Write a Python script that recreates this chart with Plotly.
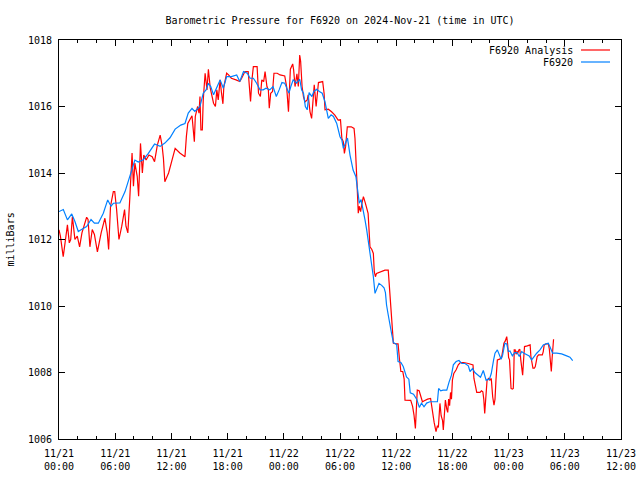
import plotly.graph_objects as go
import pandas as pd

title_text = "Barometric Pressure for F6920 on 2024-Nov-21 (time in UTC)"
y_label = "milliBars"
series_names = ["F6920 Analysis", "F6920"]
base_time = "2024-11-21 00:00"

# Observations (F6920): hours after base_time, pressure in mb
obs_hours = [0.0, 0.46, 0.9, 1.36, 1.7, 2.06, 2.4, 2.95, 3.42, 3.78, 4.2, 4.73, 5.2, 5.55, 5.8,
             6.5, 7.05, 7.58, 8.1, 8.46, 9.0, 9.54, 10.2, 10.8, 11.3, 11.85, 12.4, 13.0, 13.45,
             13.8, 14.2, 14.5, 14.9, 15.05, 15.4, 15.7, 15.95, 16.2, 16.5, 16.85, 17.2, 17.55,
             17.9, 18.4, 18.97, 19.3, 19.7, 20.1, 20.4, 20.75, 21.1, 21.46, 21.8, 22.1, 22.5,
             22.85, 23.2, 23.5, 23.8, 24.1, 24.3, 24.55, 24.75, 25.0, 25.35, 25.7, 25.9, 26.1,
             26.3, 26.5, 26.7, 27.0, 27.2, 27.5, 27.8, 28.1, 28.4, 28.6, 28.75, 29.05, 29.3,
             29.65, 29.8, 30.0, 30.2, 30.36, 30.64, 30.8, 31.07, 31.25, 31.4, 31.7, 31.85, 32.06,
             32.25, 32.5, 32.67, 32.85, 33.0, 33.2, 33.38, 33.56, 33.74, 33.9, 34.16, 34.45,
             34.7, 34.85, 34.97, 35.15, 35.3, 35.5, 35.7, 36.05, 36.2, 36.5, 36.75, 37.1, 37.35,
             37.5, 37.85, 38.2, 38.47, 38.7, 38.97, 39.25, 39.6, 40.14, 40.4, 40.53, 40.75, 41.0,
             41.4, 41.65, 41.9, 42.1, 42.4, 42.7, 43.0, 43.35, 43.7, 43.88, 44.15, 44.4, 44.75,
             45.0, 45.3, 45.6, 45.95, 46.15, 46.4, 46.55, 46.8, 47.0, 47.2, 47.36, 47.6, 47.8,
             47.97, 48.15, 48.4, 48.65, 48.9, 49.14, 49.4, 49.64, 49.9, 50.2, 50.46, 50.7, 51.0,
             51.35, 51.7, 52.0, 52.24, 52.4, 52.7, 53.13, 53.66, 54.2, 54.55, 54.84]
obs_mb = [1012.84, 1012.9, 1012.59, 1012.77, 1012.54, 1012.24, 1012.3, 1012.39, 1012.6, 1012.49,
          1012.49, 1012.79, 1013.19, 1013.0, 1013.09, 1013.1, 1013.44, 1013.89, 1014.39, 1014.33,
          1014.4, 1014.59, 1014.87, 1014.8, 1014.9, 1015.06, 1015.32, 1015.44, 1015.49, 1015.8,
          1015.94, 1015.85, 1015.95, 1016.0, 1016.4, 1016.5, 1016.7, 1016.6, 1016.35, 1016.6,
          1016.8, 1016.55, 1016.9, 1016.9, 1016.95, 1016.75, 1017.05, 1017.0, 1016.85, 1016.85,
          1016.7, 1016.5, 1016.5, 1016.55, 1016.5, 1016.6, 1016.3, 1016.5, 1016.72, 1016.7,
          1016.55, 1016.4, 1016.6, 1016.8, 1016.7, 1016.82, 1016.5, 1016.4, 1016.0, 1015.9,
          1016.42, 1016.3, 1016.45, 1016.52, 1016.45, 1016.4, 1016.14, 1015.84, 1015.64, 1015.75,
          1015.7, 1015.49, 1015.29, 1015.09, 1014.99, 1014.74, 1014.94, 1015.05, 1014.54, 1014.29,
          1014.09, 1013.89, 1013.49, 1013.09, 1013.2, 1012.89, 1012.59, 1012.29, 1011.98, 1011.68,
          1011.28, 1010.88, 1010.38, 1010.5, 1010.68, 1010.62, 1010.55, 1010.4, 1010.03, 1009.73,
          1009.43, 1009.18, 1008.9, 1008.84, 1008.33, 1008.3, 1008.18, 1007.87, 1007.8, 1007.39,
          1007.35, 1007.19, 1006.95, 1007.08, 1006.97, 1007.08, 1007.12, 1007.12, 1007.12,
          1007.52, 1007.45, 1007.47, 1007.47, 1007.72, 1007.92, 1008.23, 1008.33, 1008.36,
          1008.27, 1008.27, 1008.2, 1008.03, 1008.12, 1008.0, 1007.92, 1007.86, 1008.06, 1007.77,
          1007.8, 1007.97, 1008.38, 1008.58, 1008.68, 1008.53, 1008.4, 1008.52, 1008.88, 1008.86,
          1008.63, 1008.65, 1008.5, 1008.6, 1008.6, 1008.48, 1008.63, 1008.58, 1008.55, 1008.5,
          1008.38, 1008.48, 1008.58, 1008.68, 1008.83, 1008.86, 1008.88, 1008.78, 1008.58,
          1008.58, 1008.56, 1008.5, 1008.46, 1008.36]

# Analysis (F6920 Analysis): hours after base_time, pressure in mb
ana_hours = [0.0, 0.15, 0.45, 0.75, 0.9, 1.1, 1.25, 1.43, 1.7, 1.95, 2.2, 2.45, 2.95, 3.1, 3.3,
             3.55, 3.78, 4.1, 4.5, 4.9, 5.15, 5.3, 5.5, 5.8, 5.95, 6.15, 6.4, 6.7, 7.0, 7.15, 7.35,
             7.55, 7.8, 7.95, 8.1, 8.35, 8.5, 8.7, 8.9, 9.05, 9.3, 9.6, 9.95, 10.2, 10.5, 10.8,
             11.0, 11.15, 11.3, 11.7, 12.4, 12.9, 13.45, 13.6, 13.75, 14.2, 14.35, 14.45, 14.55,
             14.8, 14.95, 15.05, 15.15, 15.3, 15.4, 15.6, 15.8, 15.95, 16.15, 16.35, 16.5, 16.7,
             16.85, 17.0, 17.2, 17.35, 17.5, 17.6, 17.9, 18.1, 18.4, 18.9, 19.3, 19.5, 19.85,
             20.2, 20.45, 20.6, 20.75, 21.15, 21.3, 21.5, 21.65, 21.85, 22.0, 22.2, 22.35, 22.45,
             22.6, 22.8, 22.95, 23.3, 23.6, 24.1, 24.3, 24.5, 24.6, 24.7, 24.95, 25.05, 25.2,
             25.4, 25.55, 25.7, 25.8, 25.95, 26.1, 26.26, 26.5, 26.6, 26.8, 26.97, 27.1, 27.25,
             27.45, 27.7, 28.15, 28.3, 28.4, 28.75, 29.1, 29.45, 29.8, 30.05, 30.2, 30.35, 30.47,
             30.6, 30.78, 31.2, 31.5, 31.6, 31.8, 31.88, 31.95, 32.05, 32.2, 32.35, 32.5, 32.7,
             32.85, 33.0, 33.1, 33.2, 33.4, 33.56, 33.66, 33.78, 33.9, 34.3, 34.8, 35.15, 35.3,
             35.5, 35.6, 35.7, 36.05, 36.2, 36.35, 36.5, 36.7, 36.85, 36.94, 37.2, 37.55, 37.75,
             37.9, 38.05, 38.15, 38.25, 38.45, 38.6, 38.8, 39.0, 39.35, 39.67, 39.8, 39.9, 40.05,
             40.25, 40.4, 40.5, 40.67, 40.8, 40.95, 41.03, 41.15, 41.25, 41.4, 41.5, 41.6, 41.7,
             41.8, 41.9, 42.0, 42.15, 42.4, 42.63, 42.85, 43.2, 43.7, 44.2, 44.3, 44.5, 44.6,
             44.95, 45.1, 45.25, 45.35, 45.45, 45.55, 45.7, 45.85, 46.0, 46.15, 46.2, 46.3, 46.44,
             46.55, 46.65, 46.8, 47.05, 47.25, 47.4, 47.5, 47.65, 47.8, 47.9, 48.0, 48.1, 48.2,
             48.26, 48.4, 48.5, 48.55, 48.6, 48.7, 48.8, 48.9, 49.0, 49.1, 49.2, 49.3, 49.4, 49.5,
             49.6, 49.7, 50.0, 50.3, 50.38, 50.48, 50.6, 50.75, 50.85, 50.95, 51.05, 51.2, 51.6,
             51.7, 51.8, 52.0, 52.24, 52.35, 52.45, 52.5, 52.56, 52.65, 52.72, 52.8]
ana_mb = [1012.29, 1012.1, 1011.48, 1012.1, 1012.44, 1011.9, 1012.0, 1012.69, 1012.0, 1012.1,
          1011.78, 1012.2, 1012.67, 1012.6, 1011.78, 1012.3, 1012.15, 1011.63, 1012.2, 1012.64,
          1012.2, 1011.7, 1013.0, 1013.44, 1013.44, 1012.9, 1012.0, 1012.4, 1012.9, 1012.4,
          1012.2, 1013.2, 1014.6, 1013.6, 1014.3, 1013.9, 1013.3, 1014.89, 1014.0, 1014.54,
          1014.39, 1014.54, 1014.49, 1014.34, 1014.84, 1015.14, 1014.84, 1014.44, 1013.74,
          1014.0, 1014.74, 1014.6, 1014.49, 1015.1, 1015.49, 1015.72, 1015.3, 1014.94, 1015.7,
          1016.0, 1015.8, 1016.3, 1015.3, 1015.3, 1016.2, 1017.0, 1016.5, 1017.12, 1016.55,
          1016.3, 1016.1, 1016.0, 1016.5, 1016.2, 1016.8, 1016.4, 1016.08, 1016.6, 1017.0,
          1016.95, 1016.85, 1016.8, 1016.75, 1016.85, 1017.05, 1017.05, 1016.15, 1016.8, 1017.2,
          1017.2, 1016.4, 1016.3, 1016.8, 1016.75, 1017.05, 1016.6, 1016.5, 1015.95, 1016.4,
          1016.45, 1017.0, 1017.0, 1016.95, 1016.92, 1016.6, 1015.84, 1016.6, 1017.12, 1017.28,
          1017.1, 1016.6, 1016.98, 1016.6, 1017.55, 1017.35, 1016.6, 1016.3, 1016.14, 1016.2,
          1016.35, 1015.84, 1015.64, 1016.1, 1016.65, 1016.0, 1016.72, 1016.75, 1016.4, 1015.9,
          1015.92, 1015.84, 1015.74, 1015.59, 1015.6, 1015.04, 1014.94, 1014.59, 1014.8, 1015.39,
          1015.39, 1015.34, 1015.04, 1013.79, 1013.29, 1012.79, 1013.0, 1012.84, 1013.1, 1013.29,
          1013.1, 1012.94, 1012.79, 1012.29, 1011.78, 1011.7, 1011.58, 1011.03, 1010.88, 1010.98,
          1011.03, 1011.08, 1011.08, 1010.5, 1009.78, 1009.28, 1008.88, 1008.86, 1008.86, 1008.4,
          1008.03, 1008.03, 1007.8, 1007.17, 1007.17, 1007.16, 1006.98, 1006.72, 1006.32, 1006.8,
          1007.47, 1007.45, 1007.3, 1007.12, 1007.15, 1007.2, 1007.22, 1006.95, 1006.77, 1006.5,
          1006.22, 1006.4, 1006.35, 1007.07, 1006.7, 1006.55, 1006.27, 1006.9, 1007.17, 1006.9,
          1006.8, 1007.2, 1007.0, 1007.4, 1007.2, 1007.77, 1007.97, 1008.08, 1008.23, 1008.3,
          1008.3, 1008.27, 1008.23, 1007.82, 1007.52, 1007.4, 1007.4, 1007.45, 1007.42, 1007.2,
          1006.77, 1007.2, 1007.77, 1007.82, 1007.77, 1007.82, 1007.6, 1007.27, 1007.02, 1007.2,
          1007.77, 1008.38, 1008.4, 1008.45, 1008.7, 1008.88, 1008.95, 1009.08, 1008.85, 1008.45,
          1008.38, 1007.95, 1007.52, 1007.5, 1007.52, 1007.95, 1008.68, 1008.68, 1008.55,
          1008.63, 1008.6, 1008.68, 1008.7, 1008.38, 1008.13, 1007.92, 1008.38, 1008.78, 1008.8,
          1008.83, 1008.48, 1008.33, 1008.13, 1008.13, 1008.18, 1008.33, 1008.48, 1008.53,
          1008.53, 1008.63, 1008.83, 1008.86, 1008.86, 1008.7, 1008.45, 1008.3, 1008.03, 1008.45,
          1008.8, 1009.0]

y_range = [1006, 1018]
x_range = ["2024-11-21 00:00", "2024-11-23 12:00"]

t0 = pd.Timestamp(base_time)
obs_t = t0 + pd.to_timedelta(obs_hours, unit="h")
ana_t = t0 + pd.to_timedelta(ana_hours, unit="h")

RED = "#ff0000"
BLUE = "#0080ff"
FONT = "DejaVu Sans Mono"

fig = go.Figure()
fig.add_trace(go.Scatter(x=ana_t, y=ana_mb, mode="lines", name=series_names[0],
                         line=dict(color=RED, width=1.2)))
fig.add_trace(go.Scatter(x=obs_t, y=obs_mb, mode="lines", name=series_names[1],
                         line=dict(color=BLUE, width=1.2)))

W, H = 640, 480
L, R, T, B = 59, 19, 40, 41
pw, ph = W - L - R, H - T - B

def px(xp):
    return (xp - L) / pw

def py(yp):
    return (H - B - yp) / ph

annotations = [
    dict(text=y_label, x=0, y=0.5, xref="paper", yref="paper", xanchor="center",
         yanchor="middle", xshift=-49, textangle=-90, showarrow=False,
         font=dict(family=FONT, size=10, color="black")),
]
shapes = []
legend_rows = [(series_names[0], RED, 50), (series_names[1], BLUE, 62)]
for name, col, yy in legend_rows:
    annotations.append(dict(text=name, x=px(575), y=py(yy), xref="paper", yref="paper",
                            xanchor="right", yanchor="middle", showarrow=False,
                            font=dict(family=FONT, size=10, color="black")))
    shapes.append(dict(type="line", xref="paper", yref="paper", x0=px(581), x1=px(610),
                       y0=py(yy), y1=py(yy), line=dict(color=col, width=1.2)))

fig.update_layout(
    width=W, height=H,
    margin=dict(l=L, r=R, t=T, b=B, pad=0, autoexpand=False),
    paper_bgcolor="white", plot_bgcolor="white",
    showlegend=False,
    font=dict(family=FONT, size=10, color="black"),
    title=dict(text=title_text, x=340 / W, xanchor="center", y=1 - 20 / H, yanchor="middle",
               font=dict(family=FONT, size=10, color="black")),
    annotations=annotations,
    shapes=shapes,
    xaxis=dict(type="date", range=x_range, dtick=6 * 3600 * 1000, tick0="2024-11-21 00:00",
               tickformat="%m/%d<br>%H:%M", ticks="inside", ticklen=6, tickcolor="black",
               showline=True, linecolor="black", linewidth=1, mirror="allticks",
               showgrid=False, zeroline=False, automargin=False, ticklabelstandoff=5,
               minor=dict(dtick=2 * 3600 * 1000, ticks="inside", ticklen=3, tickcolor="black",
                          showgrid=False),
               tickfont=dict(family=FONT, size=10)),
    yaxis=dict(range=y_range, dtick=2, ticks="inside", ticklen=6, tickcolor="black",
               showline=True, linecolor="black", linewidth=1, mirror="allticks",
               showgrid=False, zeroline=False, tickformat="d", automargin=False,
               ticklabelstandoff=4,
               tickfont=dict(family=FONT, size=10)),
)

fig.write_html("out.html", config={"displayModeBar": False},
               post_script="document.body.style.margin='0';")
